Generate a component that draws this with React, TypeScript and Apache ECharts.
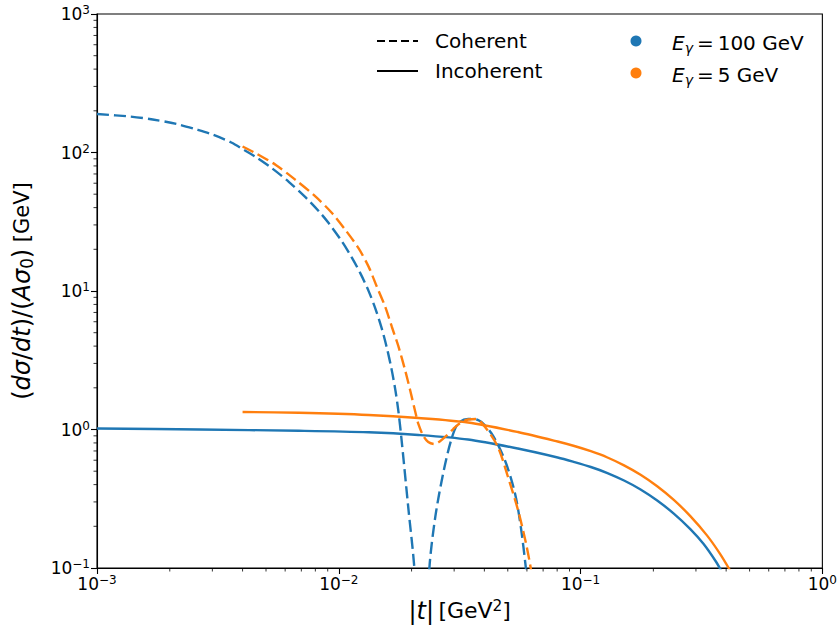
import React, { useEffect, useRef } from 'react';
import * as echarts from 'echarts';

// ---- Data ----
// Coherent, E_gamma = 100 GeV
const tCohBlue = [0.001, 0.001367, 0.0017, 0.002134, 0.002579, 0.003002, 0.003594, 0.004064, 0.004553, 0.005302, 0.006226, 0.007312, 0.008275, 0.009096, 0.010287, 0.011311, 0.012315, 0.013288, 0.014203, 0.015031, 0.015754, 0.01652, 0.01716, 0.017655, 0.018166, 0.019408, 0.020549, 0.0222, 0.0237, 0.02506, 0.02704, 0.02917, 0.0312, 0.0343, 0.0377, 0.0427, 0.0486, 0.0535, 0.0566, 0.0594, 0.062];
const vCohBlue = [189.7, 181.9, 173.1, 160.6, 146.6, 134.9, 118.1, 104.2, 92.5, 76.8, 61.2, 47.2, 37.6, 30.8, 22.9, 17.5, 13.3, 9.98, 7.38, 5.42, 3.98, 2.74, 1.9, 1.34, 0.855, 0.267, 0.0984, 0.01, 0.1, 0.233, 0.485, 0.84, 1.11, 1.19, 1.17, 0.944, 0.602, 0.348, 0.198, 0.1, 0.05];

// Coherent, E_gamma = 5 GeV
const tCohOrange = [0.004, 0.00454, 0.00549, 0.00663, 0.00802, 0.00939, 0.01065, 0.01208, 0.01328, 0.01438, 0.01556, 0.01657, 0.01766, 0.0188, 0.01972, 0.0207, 0.02133, 0.02238, 0.02344, 0.02484, 0.0263, 0.02783, 0.02973, 0.03177, 0.03428, 0.03698, 0.04026, 0.0455, 0.0501, 0.0551, 0.0594, 0.0622, 0.065];
const vCohOrange = [110.5, 98.6, 81.3, 63.3, 48, 36.4, 27.6, 20.3, 15.0, 10.7, 7.7, 5.52, 3.96, 2.69, 1.93, 1.35, 1.096, 0.898, 0.812, 0.786, 0.826, 0.898, 1.008, 1.114, 1.181, 1.191, 1.043, 0.748, 0.454, 0.262, 0.152, 0.1, 0.06];

// Incoherent, E_gamma = 100 GeV
const tIncBlue = [0.001, 0.002654, 0.006845, 0.013288, 0.02135, 0.03428, 0.05503, 0.08039, 0.09421, 0.11024, 0.12915, 0.15126, 0.17706, 0.20742, 0.24295, 0.28438, 0.32285, 0.36383, 0.38404];
const vIncBlue = [1.017, 1.0, 0.979, 0.955, 0.913, 0.847, 0.729, 0.628, 0.582, 0.536, 0.485, 0.428, 0.369, 0.307, 0.247, 0.191, 0.149, 0.1105, 0.0936];

// Incoherent, E_gamma = 5 GeV
const tIncOrange = [0.004, 0.006845, 0.013288, 0.02135, 0.03428, 0.05503, 0.08039, 0.09421, 0.11024, 0.12915, 0.15126, 0.17706, 0.20742, 0.24295, 0.28438, 0.33316, 0.37687, 0.41432];
const vIncOrange = [1.338, 1.32, 1.273, 1.211, 1.123, 0.959, 0.819, 0.76, 0.697, 0.628, 0.551, 0.471, 0.389, 0.31, 0.237, 0.172, 0.127, 0.0967];

const xMinorTicks = [0.002, 0.003, 0.004, 0.005, 0.006, 0.007, 0.008, 0.009, 0.02, 0.03, 0.04, 0.05, 0.06, 0.07, 0.08, 0.09, 0.2, 0.3, 0.4, 0.5, 0.6, 0.7, 0.8, 0.9];
const yMinorTicks = [0.2, 0.3, 0.4, 0.5, 0.6, 0.7, 0.8, 0.9, 2, 3, 4, 5, 6, 7, 8, 9, 20, 30, 40, 50, 60, 70, 80, 90, 200, 300, 400, 500, 600, 700, 800, 900];

const legendStyles = ['Coherent', 'Incoherent'];
const legendEnergies = ['100', '5'];

const BLUE = '#1f77b4';
const ORANGE = '#ff7f0e';
const FONT = 'DejaVu Sans';

const pairs = (t: number[], v: number[]) => t.map((x, i) => [x, v[i]]);

const expLabel = (value: number) => {
  const e = Math.round(Math.log10(value));
  const s = e < 0 ? '\u2212' + Math.abs(e) : String(e);
  return '{b|10}{s|' + s + '}';
};

const tickRich = {
  b: { fontSize: 17, fontFamily: FONT, color: '#000' },
  s: { fontSize: 12, fontFamily: FONT, color: '#000', padding: [0, 0, 8, 0] },
};

const TS = '\u2009';

export default function App() {
  const ref = useRef<HTMLDivElement>(null);
  useEffect(() => {
    if (!ref.current) return;
    const chart = echarts.init(ref.current, null, { renderer: 'svg' });
    const dash = [12, 5];
    const minorTickItem = (isX: boolean) => (params: any, api: any) => {
      const p = api.coord([api.value(0), api.value(1)]);
      return isX
        ? { type: 'line', shape: { x1: p[0], y1: p[1], x2: p[0], y2: p[1] + 3.5 }, style: { stroke: '#000', lineWidth: 0.8 } }
        : { type: 'line', shape: { x1: p[0] - 3.5, y1: p[1], x2: p[0], y2: p[1] }, style: { stroke: '#000', lineWidth: 0.8 } };
    };
    const mathRich = (size: number, msize: number) => ({
      n: { fontSize: size, fontFamily: FONT, color: '#000', fill: '#000' },
      mn: { fontSize: msize, fontFamily: FONT, color: '#000', fill: '#000' },
      i: { fontSize: msize, fontFamily: FONT, fontStyle: 'italic', color: '#000', fill: '#000' },
      s: { fontSize: size * 0.7, fontFamily: FONT, color: '#000', fill: '#000', padding: [0, 0, 10, 0] },
      sub: { fontSize: msize * 0.7, fontFamily: FONT, color: '#000', fill: '#000', padding: [10, 0, 0, 0] },
      subi: { fontSize: msize * 0.7, fontFamily: FONT, fontStyle: 'italic', color: '#000', fill: '#000', padding: [10, 0, 0, 0] },
    });
    const lineSeries = (name: string, t: number[], v: number[], color: string, dashed: boolean, z: number) => ({
      type: 'line', name, data: pairs(t, v), showSymbol: false, smooth: 0.3,
      lineStyle: { color, width: 2.4, type: dashed ? dash : 'solid' }, itemStyle: { color }, z,
    });
    const option: any = {
      animation: false,
      backgroundColor: '#fff',
      grid: { left: 97, right: 14, top: 14, bottom: 67, show: true, borderColor: '#000', borderWidth: 1.1, backgroundColor: 'transparent' },
      xAxis: {
        type: 'log', logBase: 10, min: 0.001, max: 1,
        name: '{mn||}{i|t}{mn||}{n|' + TS + '[GeV}{s|2}{n|]}',
        nameLocation: 'middle', nameGap: 30,
        nameTextStyle: { fontSize: 22, rich: mathRich(22, 24) },
        axisLine: { lineStyle: { color: '#000', width: 1.1 } },
        axisTick: { show: true, inside: false, length: 6, lineStyle: { color: '#000', width: 1.1 } },
        splitLine: { show: false },
        minorTick: { show: false },
        axisLabel: { formatter: expLabel, rich: tickRich, margin: 6 },
      },
      yAxis: {
        type: 'log', logBase: 10, min: 0.1, max: 1000,
        name: '{mn|(}{i|d\u03c3}{mn|/}{i|dt}{mn|)/(}{i|A\u03c3}{sub|0}{mn|)}{n| [GeV]}',
        nameLocation: 'middle', nameGap: 62, nameRotate: 90,
        nameTextStyle: { fontSize: 21, rich: mathRich(21, 24) },
        axisLine: { lineStyle: { color: '#000', width: 1.1 } },
        axisTick: { show: true, inside: false, length: 6, lineStyle: { color: '#000', width: 1.1 } },
        splitLine: { show: false },
        minorTick: { show: false },
        axisLabel: { formatter: expLabel, rich: tickRich, margin: 7 },
      },
      series: [
        lineSeries('coh100', tCohBlue, vCohBlue, BLUE, true, 3),
        lineSeries('inc100', tIncBlue, vIncBlue, BLUE, false, 3),
        lineSeries('coh5', tCohOrange, vCohOrange, ORANGE, true, 4),
        lineSeries('inc5', tIncOrange, vIncOrange, ORANGE, false, 4),
        { type: 'custom', silent: true, data: xMinorTicks.map((v) => [v, 0.1]), renderItem: minorTickItem(true), z: 5 },
        { type: 'custom', silent: true, data: yMinorTicks.map((v) => [0.001, v]), renderItem: minorTickItem(false), z: 5 },
      ],
      graphic: [
        { type: 'line', shape: { x1: 377, y1: 41, x2: 418, y2: 41 }, style: { stroke: '#000', lineWidth: 2, lineDash: [8, 4] } },
        { type: 'line', shape: { x1: 377, y1: 71, x2: 418, y2: 71 }, style: { stroke: '#000', lineWidth: 2 } },
        { type: 'text', x: 435, y: 41, style: { text: legendStyles[0], font: '20px "DejaVu Sans"', fill: '#000', verticalAlign: 'middle' } },
        { type: 'text', x: 435, y: 71, style: { text: legendStyles[1], font: '20px "DejaVu Sans"', fill: '#000', verticalAlign: 'middle' } },
        { type: 'circle', shape: { cx: 636, cy: 41, r: 5.5 }, style: { fill: BLUE } },
        { type: 'circle', shape: { cx: 636, cy: 73, r: 5.5 }, style: { fill: ORANGE } },
        {
          type: 'text', x: 672, y: 43,
          style: { text: '{i|E}{subi|\u03b3}{n|' + TS + '=' + TS + legendEnergies[0] + ' GeV}', verticalAlign: 'middle', rich: mathRich(20, 20) },
        },
        {
          type: 'text', x: 672, y: 75,
          style: { text: '{i|E}{subi|\u03b3}{n|' + TS + '=' + TS + legendEnergies[1] + ' GeV}', verticalAlign: 'middle', rich: mathRich(20, 20) },
        },
      ],
    };
    chart.setOption(option);
    return () => chart.dispose();
  }, []);
  return <div ref={ref} style={{ width: 840, height: 635, position: 'absolute', left: 0, top: 0 }} />;
}
